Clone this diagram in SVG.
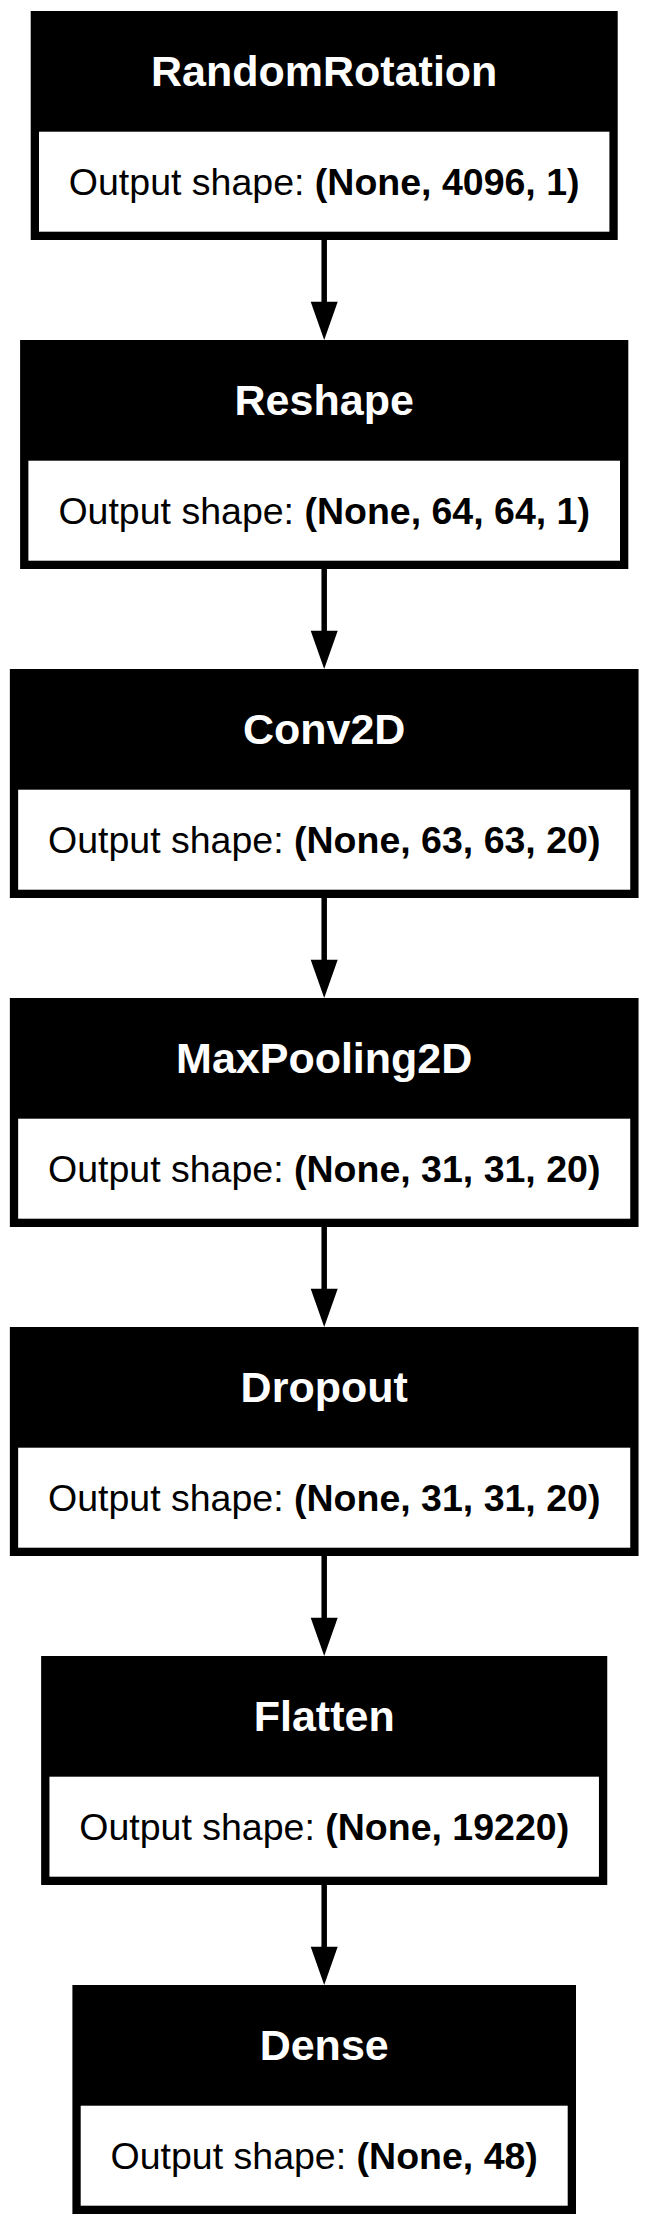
<svg xmlns="http://www.w3.org/2000/svg" width="649" height="2226" viewBox="0 0 649 2226">
<style>
.outer{fill:#000}
.cell{fill:#fff}
.hdr{font-family:"Liberation Sans",Arial,Helvetica,sans-serif;font-size:43px;font-weight:bold;fill:#fff;text-anchor:middle}
.body{font-family:"Liberation Sans",Arial,Helvetica,sans-serif;font-size:37.5px;fill:#000;text-anchor:middle}
.b{font-weight:bold}
.edge{stroke:#000;stroke-width:5.5;fill:none}
.head{fill:#000;stroke:none}
</style>
<rect width="649" height="2226" fill="#fff"/>
<g id="connectors">
<line class="edge" x1="324.2" y1="240" x2="324.2" y2="302"/>
<polygon class="head" points="310.7,301.7 337.7,301.7 324.2,340"/>
<line class="edge" x1="324.2" y1="569" x2="324.2" y2="631"/>
<polygon class="head" points="310.7,630.7 337.7,630.7 324.2,669"/>
<line class="edge" x1="324.2" y1="898" x2="324.2" y2="960"/>
<polygon class="head" points="310.7,959.7 337.7,959.7 324.2,998"/>
<line class="edge" x1="324.2" y1="1227" x2="324.2" y2="1289"/>
<polygon class="head" points="310.7,1288.7 337.7,1288.7 324.2,1327"/>
<line class="edge" x1="324.2" y1="1556" x2="324.2" y2="1618"/>
<polygon class="head" points="310.7,1617.7 337.7,1617.7 324.2,1656"/>
<line class="edge" x1="324.2" y1="1885" x2="324.2" y2="1947"/>
<polygon class="head" points="310.7,1946.7 337.7,1946.7 324.2,1985"/>
</g>
<g id="node-random_rotation">
<rect class="outer" x="30.7" y="11" width="587" height="229"/>
<rect class="cell" x="39" y="131.7" width="570.4" height="100"/>
<text class="hdr" x="324.2" y="86">RandomRotation</text>
<text class="body" x="324.2" y="194.7">Output shape: <tspan class="b">(None, 4096, 1)</tspan></text>
</g>
<g id="node-reshape">
<rect class="outer" x="20.1" y="340" width="608.2" height="229"/>
<rect class="cell" x="28.4" y="460.7" width="591.6" height="100"/>
<text class="hdr" x="324.2" y="415">Reshape</text>
<text class="body" x="324.2" y="523.7">Output shape: <tspan class="b">(None, 64, 64, 1)</tspan></text>
</g>
<g id="node-conv2d">
<rect class="outer" x="9.85" y="669" width="628.7" height="229"/>
<rect class="cell" x="18.15" y="789.7" width="612.1" height="100"/>
<text class="hdr" x="324.2" y="744">Conv2D</text>
<text class="body" x="324.2" y="852.7">Output shape: <tspan class="b">(None, 63, 63, 20)</tspan></text>
</g>
<g id="node-max_pooling2d">
<rect class="outer" x="9.85" y="998" width="628.7" height="229"/>
<rect class="cell" x="18.15" y="1118.7" width="612.1" height="100"/>
<text class="hdr" x="324.2" y="1073">MaxPooling2D</text>
<text class="body" x="324.2" y="1181.7">Output shape: <tspan class="b">(None, 31, 31, 20)</tspan></text>
</g>
<g id="node-dropout">
<rect class="outer" x="9.85" y="1327" width="628.7" height="229"/>
<rect class="cell" x="18.15" y="1447.7" width="612.1" height="100"/>
<text class="hdr" x="324.2" y="1402">Dropout</text>
<text class="body" x="324.2" y="1510.7">Output shape: <tspan class="b">(None, 31, 31, 20)</tspan></text>
</g>
<g id="node-flatten">
<rect class="outer" x="41.15" y="1656" width="566.1" height="229"/>
<rect class="cell" x="49.45" y="1776.7" width="549.5" height="100"/>
<text class="hdr" x="324.2" y="1731">Flatten</text>
<text class="body" x="324.2" y="1839.7">Output shape: <tspan class="b">(None, 19220)</tspan></text>
</g>
<g id="node-dense">
<rect class="outer" x="72.4" y="1985" width="503.6" height="229"/>
<rect class="cell" x="80.7" y="2105.7" width="487" height="100"/>
<text class="hdr" x="324.2" y="2060">Dense</text>
<text class="body" x="324.2" y="2168.7">Output shape: <tspan class="b">(None, 48)</tspan></text>
</g>
</svg>
